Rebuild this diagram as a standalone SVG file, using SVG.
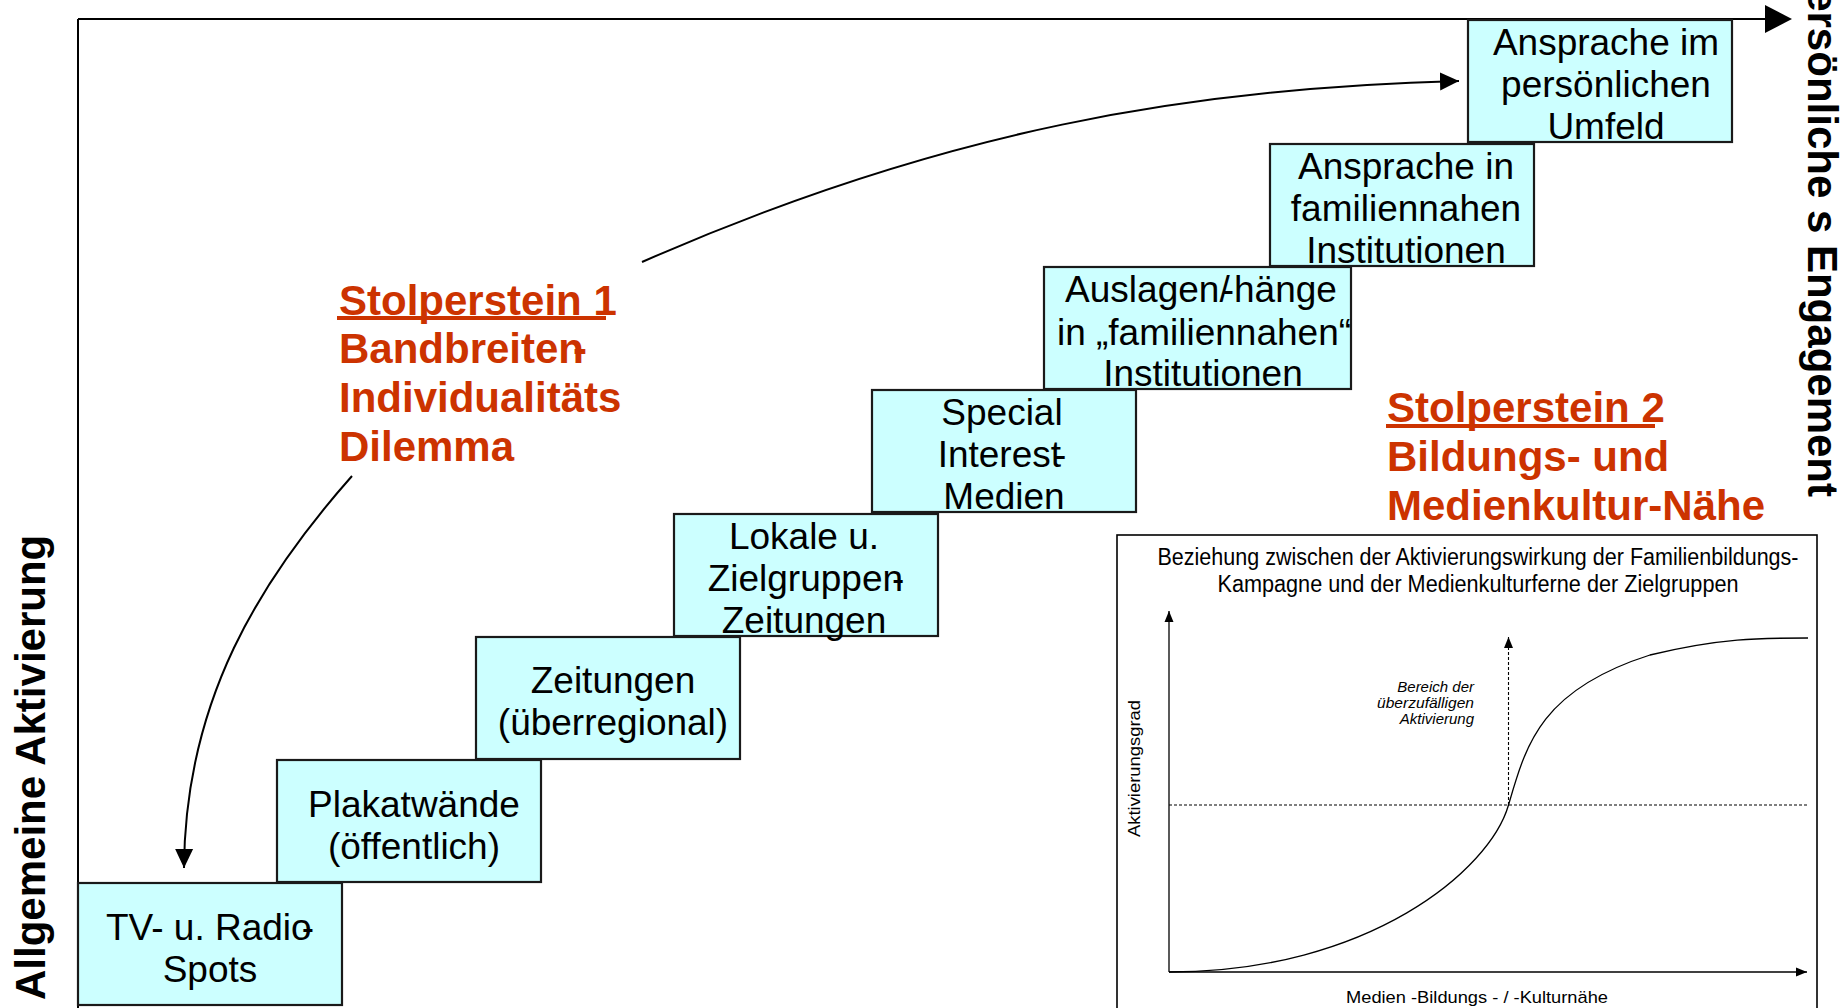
<svg xmlns="http://www.w3.org/2000/svg" width="1848" height="1008" viewBox="0 0 1848 1008">
<defs>
<style>
.box{fill:#CCFFFF;stroke:#1a1a1a;stroke-width:2.2}
.bt{font-family:"Liberation Sans",Arial,sans-serif;font-size:37px;fill:#000;text-anchor:middle}
.red{font-family:"Liberation Sans",Arial,sans-serif;font-size:42px;font-weight:bold;fill:#CC3300}
.axl{font-family:"Liberation Sans",Arial,sans-serif;font-size:42px;font-weight:bold;fill:#000}
.ax{fill:none;stroke:#000;stroke-width:2}
.conn{fill:none;stroke:#000;stroke-width:2}
.thin{fill:none;stroke:#000;stroke-width:1.3}
.dash{fill:none;stroke:#000;stroke-width:1.1;stroke-dasharray:3 2}
.ct{font-family:"Liberation Sans",Arial,sans-serif;fill:#000}
</style>
<marker id="ah" markerUnits="userSpaceOnUse" markerWidth="20" markerHeight="20" viewBox="0 0 20 20" refX="19" refY="10" orient="auto">
<path d="M0,1 L19,10 L0,19 Z" fill="#000"/>
</marker>
<marker id="sah" markerUnits="userSpaceOnUse" markerWidth="12" markerHeight="12" viewBox="0 0 12 12" refX="11" refY="6" orient="auto">
<path d="M0,1.5 L11,6 L0,10.5 Z" fill="#000"/>
</marker>
</defs>
<rect width="1848" height="1008" fill="#fff"/>

<g id="axes">
<line class="ax" x1="78" y1="19" x2="78" y2="1008"/>
<line class="ax" x1="78" y1="19" x2="1768" y2="19"/>
<path d="M1765,5 L1792,19 L1765,33 Z" fill="#000"/>
<text class="axl" transform="translate(45,1000) rotate(-90)" font-size="44">Allgemeine Aktivierung</text>
<text class="axl" transform="translate(1808,497) rotate(90)" text-anchor="end">Persönliche s Engagement</text>
</g>

<g id="connectors">
<path class="conn" d="M642,262 C942,130 1190,88 1459,81" marker-end="url(#ah)"/>
<path class="conn" d="M352,476 C260,580 185,700 184,868" marker-end="url(#ah)"/>
</g>

<g id="node-tv">
<rect class="box" x="78" y="883" width="264" height="122"/>
<text class="bt" x="210" y="940">TV- u. Radio<tspan dx="-10">-</tspan></text>
<text class="bt" x="210" y="982">Spots</text>
</g>
<g id="node-plakat">
<rect class="box" x="277" y="760" width="264" height="122"/>
<text class="bt" x="414" y="817">Plakatwände</text>
<text class="bt" x="414" y="859">(öffentlich)</text>
</g>
<g id="node-zeitungen">
<rect class="box" x="476" y="637" width="264" height="122"/>
<text class="bt" x="613" y="693">Zeitungen</text>
<text class="bt" x="613" y="735">(überregional)</text>
</g>
<g id="node-lokale">
<rect class="box" x="674" y="514" width="264" height="122"/>
<text class="bt" x="804" y="549">Lokale u.</text>
<text class="bt" x="806" y="591">Zielgruppen<tspan dx="-11">-</tspan></text>
<text class="bt" x="804" y="633">Zeitungen</text>
</g>
<g id="node-special">
<rect class="box" x="872" y="390" width="264" height="122"/>
<text class="bt" x="1002" y="425">Special</text>
<text class="bt" x="1002" y="467">Interest<tspan dx="-7">-</tspan></text>
<text class="bt" x="1004" y="509">Medien</text>
</g>
<g id="node-auslagen">
<rect class="box" x="1044" y="267" width="307" height="122"/>
<text class="bt" x="1201" y="302">Auslagen/<tspan dx="-8">-</tspan>hänge</text>
<text class="bt" x="1204" y="345">in „familiennahen“</text>
<text class="bt" x="1203" y="386">Institutionen</text>
</g>
<g id="node-ansprache-in">
<rect class="box" x="1270" y="144" width="264" height="122"/>
<text class="bt" x="1406" y="179">Ansprache in</text>
<text class="bt" x="1406" y="221">familiennahen</text>
<text class="bt" x="1406" y="263">Institutionen</text>
</g>
<g id="node-ansprache-im">
<rect class="box" x="1468" y="20" width="264" height="122"/>
<text class="bt" x="1606" y="55">Ansprache im</text>
<text class="bt" x="1606" y="97">persönlichen</text>
<text class="bt" x="1606" y="139">Umfeld</text>
</g>

<g id="stolperstein-1">
<text class="red" x="339" y="315">Stolperstein 1</text>
<rect x="337" y="316" width="269" height="4" fill="#CC3300"/>
<text class="red" x="339" y="363">Bandbreiten<tspan dx="-11">-</tspan></text>
<text class="red" x="339" y="412">Individualitäts</text>
<text class="red" x="339" y="461">Dilemma</text>
</g>
<g id="stolperstein-2">
<text class="red" x="1387" y="422">Stolperstein 2</text>
<rect x="1386" y="424" width="269" height="4" fill="#CC3300"/>
<text class="red" x="1387" y="471">Bildungs- und</text>
<text class="red" x="1387" y="520">Medienkultur-Nähe</text>
</g>

<g id="chart-inset">
<rect x="1117" y="535" width="700" height="480" fill="#fff" stroke="#000" stroke-width="1.6"/>
<text class="ct" x="1478" y="565" font-size="23" text-anchor="middle" textLength="641" lengthAdjust="spacingAndGlyphs">Beziehung zwischen der Aktivierungswirkung der Familienbildungs-</text>
<text class="ct" x="1478" y="592" font-size="23" text-anchor="middle" textLength="521" lengthAdjust="spacingAndGlyphs">Kampagne und der Medienkulturferne der Zielgruppen</text>
<line class="thin" x1="1169" y1="972" x2="1169" y2="611" marker-end="url(#sah)"/>
<line class="thin" x1="1169" y1="972" x2="1807" y2="972" marker-end="url(#sah)"/>
<line class="dash" x1="1169" y1="805" x2="1808" y2="805"/>
<line class="dash" x1="1508.5" y1="805" x2="1508.5" y2="637" marker-end="url(#sah)"/>
<path class="thin" d="M1169,972 C1369,972 1490,870 1508.5,805 C1526,745 1540,690 1650,655 C1720,638 1760,638 1808,638"/>
<text class="ct" x="1474" y="692" font-size="15" font-style="italic" text-anchor="end">Bereich der</text>
<text class="ct" x="1474" y="708" font-size="15" font-style="italic" text-anchor="end" textLength="97" lengthAdjust="spacingAndGlyphs">überzufälligen</text>
<text class="ct" x="1474" y="724" font-size="15" font-style="italic" text-anchor="end">Aktivierung</text>
<text class="ct" transform="translate(1140,837) rotate(-90)" font-size="17" textLength="137" lengthAdjust="spacingAndGlyphs">Aktivierungsgrad</text>
<text class="ct" x="1346" y="1003" font-size="17" textLength="262" lengthAdjust="spacingAndGlyphs">Medien -Bildungs - / -Kulturnähe</text>
</g>
</svg>
